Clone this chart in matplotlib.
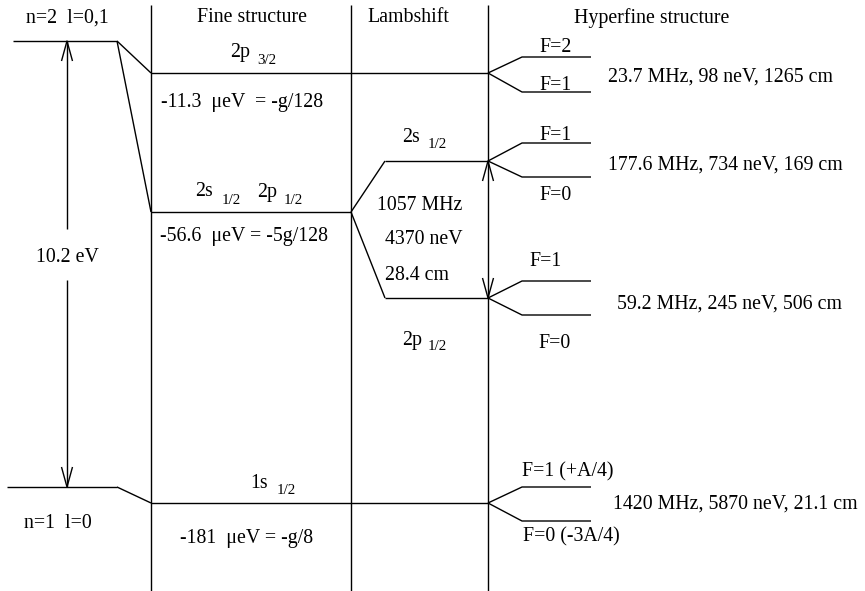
import matplotlib
matplotlib.use("Agg")
import matplotlib.pyplot as plt

plt.rcParams['font.family'] = ['Liberation Serif', 'DejaVu Serif']

# ---------------- data (diagram units: pixel rows, y grows downward) ----------------
column_titles = ["Fine structure", "Lambshift", "Hyperfine structure"]
n_labels = ["n=2  l=0,1", "n=1  l=0"]
n_levels_y = [41, 487]
gross_gap_label = "10.2 eV"

fine_levels_y = [73, 212, 503]
fine_main = [["2p"], ["2s", "2p"], ["1s"]]
fine_sub = [["3/2"], ["1/2", "1/2"], ["1/2"]]
fine_shift_texts = ["-11.3  \u03bceV  = -g/128",
                    "-56.6  \u03bceV = -5g/128",
                    "-181  \u03bceV = -g/8"]

lamb_levels_y = [161, 298]
lamb_main = ["2s", "2p"]
lamb_sub = ["1/2", "1/2"]
lamb_texts = ["1057 MHz", "4370 neV", "28.4 cm"]

hfs_parent_y = [73, 161, 298, 503]
hfs_upper_y = [57, 143, 281, 487]
hfs_lower_y = [92, 177, 315, 521]
hfs_upper_labels = ["F=2", "F=1", "F=1", "F=1 (+A/4)"]
hfs_lower_labels = ["F=1", "F=0", "F=0", "F=0 (-3A/4)"]
hfs_texts = ["23.7 MHz, 98 neV, 1265 cm",
             "177.6 MHz, 734 neV, 169 cm",
             "59.2 MHz, 245 neV, 506 cm",
             "1420 MHz, 5870 neV, 21.1 cm"]

# ---------------- layout ----------------
W, H = 865, 591
fig = plt.figure(figsize=(W / 100, H / 100), dpi=100)
ax = fig.add_axes([0, 0, 1, 1])
ax.set_xlim(0, W)
ax.set_ylim(H, 0)
ax.axis('off')

LW = 1.0
C = 'black'
FS = 14.3
FS_SUB = 10.8


def line(xs, ys):
    ax.plot(xs, ys, color=C, lw=LW, solid_capstyle='butt')


def head(x, ytip, direction):
    # open V arrow head; direction -1 = pointing up, +1 = pointing down
    L, hw = 20, 5.5
    yb = ytip - direction * L
    line([x - hw, x, x + hw], [yb, ytip, yb])


def txt(x, y, s, ha='center', size=FS):
    ax.text(x, y, s, ha=ha, va='center', fontsize=size)


def sub_label(x, y, main, sub):
    t = ax.text(x, y, main, ha='left', va='center', fontsize=FS)
    ax.text(x + 0, y, '', fontsize=1)
    return t


# column dividers
col_x = [151, 351, 488]
for cx in col_x:
    line([cx, cx], [5, H])

# column titles
title_x = [252, 408, 652]
for tx, tt in zip(title_x, column_titles):
    txt(tx, 18, tt)

# gross levels
n_x0 = [13, 7]
n_x1 = 117
for x0, y in zip(n_x0, n_levels_y):
    line([x0, n_x1], [y, y])
txt(67, 18, n_labels[0])
txt(58, 523, n_labels[1])

# connections gross -> fine
line([n_x1, col_x[0]], [n_levels_y[0], fine_levels_y[0]])
line([n_x1, col_x[0]], [n_levels_y[0], fine_levels_y[1]])
line([n_x1, col_x[0]], [n_levels_y[1], fine_levels_y[2]])

# 10.2 eV arrow
ax_x = 67
line([ax_x, ax_x], [n_levels_y[0], 229])
line([ax_x, ax_x], [280, n_levels_y[1]])
head(ax_x, n_levels_y[0], -1)
head(ax_x, n_levels_y[1], +1)
txt(ax_x, 258, gross_gap_label)

# fine structure levels
fine_x1 = [col_x[2], col_x[1], col_x[2]]
for y, x1 in zip(fine_levels_y, fine_x1):
    line([col_x[0], x1], [y, y])

# fine labels with subscripts
fine_label_pos = [[(230, 53)], [(195, 192), (257, 192)], [(250, 483)]]
for mains, subs, poss in zip(fine_main, fine_sub, fine_label_pos):
    for m, s, (px, py) in zip(mains, subs, poss):
        ax.text(px, py, m, ha='left', va='center', fontsize=FS)
        ax.text(px + 27, py + 8, s, ha='left', va='center', fontsize=FS_SUB)

shift_pos = [(242, 102), (244, 237), (247, 539)]
for (px, py), s in zip(shift_pos, fine_shift_texts):
    txt(px, py, s)

# Lamb shift
lamb_x0 = 385
for y in lamb_levels_y:
    line([col_x[1], lamb_x0], [fine_levels_y[1], y])
    line([lamb_x0, col_x[2]], [y, y])
lamb_label_pos = [(402, 137), (402, 340)]
for m, s, (px, py) in zip(lamb_main, lamb_sub, lamb_label_pos):
    ax.text(px, py, m, ha='left', va='center', fontsize=FS)
    ax.text(px + 26, py + 7, s, ha='left', va='center', fontsize=FS_SUB)
lamb_text_pos = [(377, 205), (385, 240), (385, 275)]
for (px, py), s in zip(lamb_text_pos, lamb_texts):
    txt(px, py, s, ha='left')

# Lamb shift double arrow (on the divider)
head(col_x[2], lamb_levels_y[0], -1)
head(col_x[2], lamb_levels_y[1], +1)

# hyperfine splittings
hx_mid = 522
hx_end = 591
for p, u, l in zip(hfs_parent_y, hfs_upper_y, hfs_lower_y):
    line([col_x[2], hx_mid, hx_end], [p, u, u])
    line([col_x[2], hx_mid, hx_end], [p, l, l])

upper_pos = [(556, 48, 'center'), (556, 135, 'center'), (546, 262, 'center'), (522, 472, 'left')]
lower_pos = [(556, 85, 'center'), (556, 195, 'center'), (555, 344, 'center'), (523, 537, 'left')]
for (px, py, ha), s in zip(upper_pos, hfs_upper_labels):
    txt(px, py, s, ha=ha)
for (px, py, ha), s in zip(lower_pos, hfs_lower_labels):
    txt(px, py, s, ha=ha)

hfs_text_pos = [(608, 77), (608, 165), (617, 304), (613, 504)]
for (px, py), s in zip(hfs_text_pos, hfs_texts):
    txt(px, py, s, ha='left')

fig.savefig("out.png", dpi=100, facecolor='white')
